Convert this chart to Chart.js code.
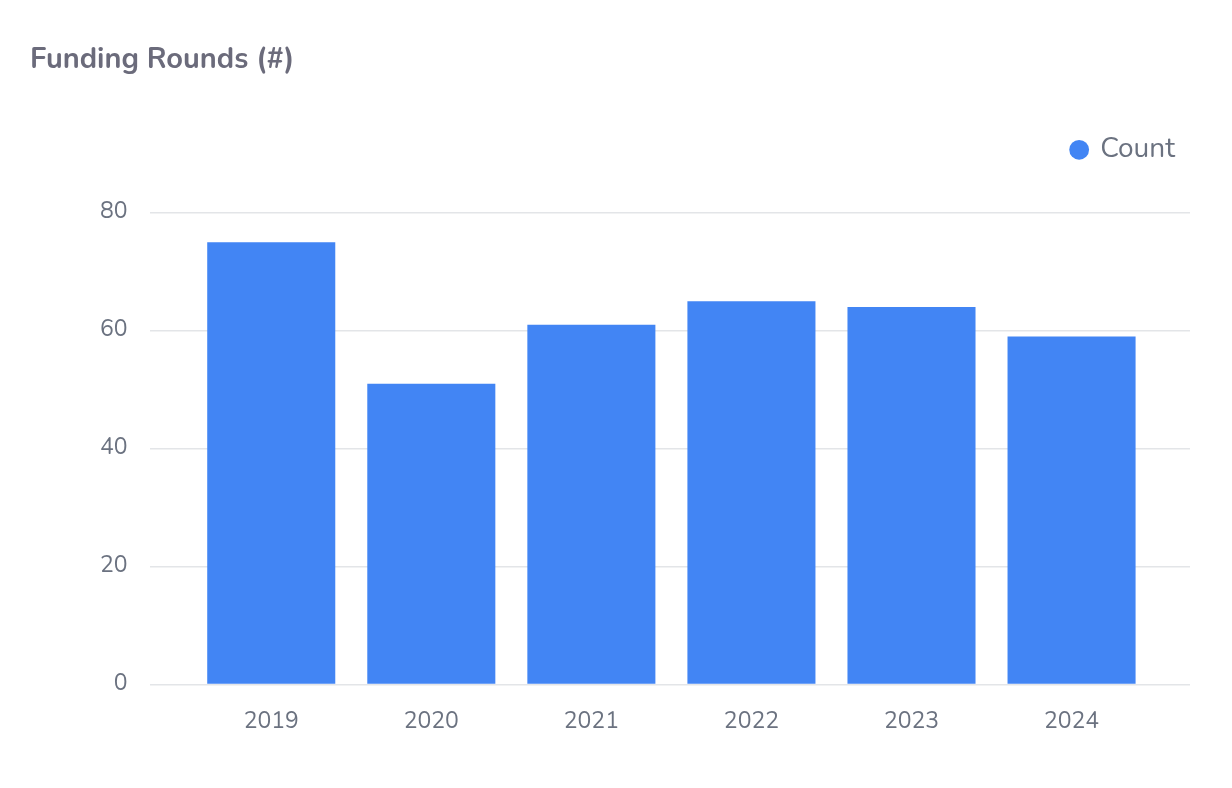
<!DOCTYPE html>
<html>
<head>
<meta charset="utf-8">
<script src="https://cdn.jsdelivr.net/npm/chart.js@4"></script>
<style>
  body { margin: 0; background: #fff; }
  #wrap { width: 1232px; height: 788px; }
</style>
</head>
<body>
<div id="wrap"><canvas id="myChart"></canvas></div>
<script>
const years = ['2019', '2020', '2021', '2022', '2023', '2024'];
const counts = [75, 51, 61, 65, 64, 59];
const yTicks = [0, 20, 40, 60, 80];

const font = '"Nunito", "Lato", "Noto Sans", sans-serif';
const grey = '#6b7280';

// extra room under the legend
const legendGap = {
    id: 'legendGap',
    beforeInit: function(chart) {
        const fit = chart.legend.fit;
        chart.legend.fit = function() {
            fit.bind(chart.legend)();
            this.height += 39;
        };
    }
};

const ctx = document.getElementById('myChart').getContext('2d');

new Chart(ctx, {
    type: 'bar',
    data: {
        datasets: [
            {
                label: 'Count',
                data: years.map((y, i) => ({ x: i, y: counts[i] })),
                backgroundColor: '#4285f4',
                borderWidth: 0,
                barPercentage: 0.8,
                categoryPercentage: 1.0
            }
        ]
    },
    options: {
        responsive: true,
        maintainAspectRatio: false,
        animation: false,
        layout: {
            padding: { left: 30, right: 42, top: 28, bottom: 36 }
        },
        plugins: {
            title: {
                display: true,
                text: 'Funding Rounds (#)',
                align: 'start',
                color: '#6b6b7b',
                font: { family: font, size: 29, weight: 'bold' },
                padding: { top: 16, bottom: 42 }
            },
            legend: {
                position: 'top',
                align: 'end',
                labels: {
                    usePointStyle: true,
                    pointStyle: 'circle',
                    boxWidth: 14,
                    boxHeight: 14,
                    color: grey,
                    font: { family: font, size: 28 },
                    padding: 15
                }
            },
            tooltip: { enabled: false }
        },
        scales: {
            x: {
                type: 'linear',
                offset: false,
                min: -0.76,
                max: 5.74,
                afterBuildTicks: function(scale) {
                    scale.ticks = years.map((y, i) => ({ value: i }));
                },
                ticks: {
                    color: grey,
                    font: { family: font, size: 23 },
                    padding: 16,
                    callback: function(v) { return years[v]; }
                },
                grid: { display: false },
                border: { display: false }
            },
            y: {
                min: 0,
                max: 80,
                afterBuildTicks: function(scale) {
                    scale.ticks = yTicks.map(v => ({ value: v }));
                },
                afterFit: function(scale) {
                    scale.width += 48;
                },
                ticks: {
                    color: grey,
                    font: { family: font, size: 23 },
                    padding: 22
                },
                grid: { color: '#e3e5e8', lineWidth: 1.5, drawTicks: false },
                border: { display: false }
            }
        }
    },
    plugins: [legendGap]
});
</script>
</body>
</html>
